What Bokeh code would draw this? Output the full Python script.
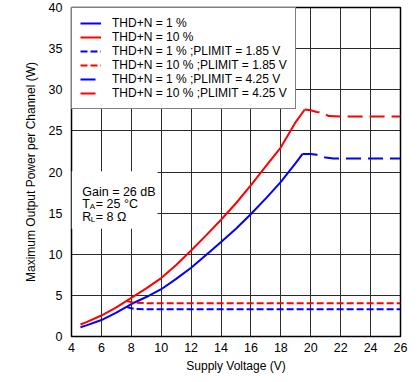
from bokeh.plotting import figure
from bokeh.models import (Range1d, FixedTicker, Legend, LegendItem,
                          BoxAnnotation, Label)
from bokeh.embed import file_html
from bokeh.resources import INLINE

# ---- data ----
v_thd1 = [4.6, 5, 6, 7, 8, 9, 10, 11, 12, 13, 14, 15, 16, 17, 18, 19, 19.45]
p_thd1 = [1.13, 1.35, 2.0, 2.9, 3.95, 4.8, 5.75, 7.0, 8.35, 9.9, 11.5, 13.1, 14.9, 16.8, 18.8, 21.1, 22.2]

v_thd10 = [4.6, 5, 6, 7, 8, 9, 10, 11, 12, 13, 14, 15, 16, 17, 18, 19, 19.6]
p_thd10 = [1.46, 1.75, 2.55, 3.55, 4.7, 5.85, 7.1, 8.7, 10.45, 12.3, 14.2, 16.2, 18.4, 20.7, 23.0, 26.1, 27.6]

v_thd1_pl185 = [7.7, 8.2, 9, 12, 16, 20, 24, 26]
p_thd1_pl185 = [3.57, 3.35, 3.32, 3.32, 3.32, 3.32, 3.32, 3.32]

v_thd10_pl185 = [7.7, 8.2, 9, 12, 16, 20, 24, 26]
p_thd10_pl185 = [4.3, 4.1, 4.05, 4.05, 4.05, 4.05, 4.05, 4.05]

v_thd1_pl425 = [19.45, 20.0, 20.4, 21.0, 21.5, 22, 24, 26]
p_thd1_pl425 = [22.2, 22.2, 22.1, 21.75, 21.65, 21.65, 21.65, 21.65]

v_thd10_pl425 = [19.6, 20.0, 20.4, 20.8, 21.2, 22, 24, 26]
p_thd10_pl425 = [27.6, 27.5, 27.3, 27.2, 26.8, 26.75, 26.75, 26.75]

series_labels = ["THD+N = 1 %", "THD+N = 10 %",
                 "THD+N = 1 % ;PLIMIT = 1.85 V", "THD+N = 10 % ;PLIMIT = 1.85 V",
                 "THD+N = 1 % ;PLIMIT = 4.25 V", "THD+N = 10 % ;PLIMIT = 4.25 V"]

x_ticks = list(range(4, 27, 2))
y_ticks = list(range(0, 41, 5))

FONT = "Liberation Sans"
BLUE = "#0000FF"
RED = "#FF0000"
GRID = "#2b2b2b"

p = figure(width=419, height=382, output_backend="svg", toolbar_location=None,
           x_range=Range1d(x_ticks[0], x_ticks[-1]),
           y_range=Range1d(y_ticks[0], y_ticks[-1]),
           min_border_left=71, min_border_right=19, min_border_top=7,
           min_border_bottom=46)

p.xaxis.ticker = FixedTicker(ticks=x_ticks)
p.yaxis.ticker = FixedTicker(ticks=y_ticks)
p.xgrid.ticker = FixedTicker(ticks=x_ticks)
p.ygrid.ticker = FixedTicker(ticks=y_ticks)
for g in (p.xgrid, p.ygrid):
    g.grid_line_color = GRID
    g.grid_line_width = 1
    g.grid_line_alpha = 1

p.xaxis.axis_label = "Supply Voltage (V)"
p.yaxis.axis_label = "Maximum Output Power per Channel (W)"
for ax in (p.xaxis, p.yaxis):
    ax.axis_line_color = None
    ax.major_tick_line_color = None
    ax.minor_tick_line_color = None
    ax.major_tick_in = 0
    ax.major_tick_out = 0
    ax.major_label_text_font = FONT
    ax.major_label_text_font_size = "12.5px"
    ax.major_label_text_color = "black"
    ax.axis_label_text_font = FONT
    ax.axis_label_text_font_size = "12px"
    ax.axis_label_text_font_style = "normal"
    ax.axis_label_text_color = "black"
p.xaxis.major_label_standoff = 6
p.xaxis.axis_label_standoff = 4
p.yaxis.major_label_standoff = 9
p.yaxis.axis_label_standoff = 8

p.outline_line_color = "black"
p.outline_line_width = 1.5
p.background_fill_color = "white"
p.border_fill_color = "white"

r1 = p.line(v_thd1, p_thd1, line_color=BLUE, line_width=2)
r2 = p.line(v_thd10, p_thd10, line_color=RED, line_width=2)
r3 = p.line(v_thd1_pl185, p_thd1_pl185, line_color=BLUE, line_width=2, line_dash="7 3")
r4 = p.line(v_thd10_pl185, p_thd10_pl185, line_color=RED, line_width=2, line_dash="7 3")
r5 = p.line(v_thd1_pl425, p_thd1_pl425, line_color=BLUE, line_width=2, line_dash="15 7")
r6 = p.line(v_thd10_pl425, p_thd10_pl425, line_color=RED, line_width=2, line_dash="15 7")

legend = Legend(items=[LegendItem(label=lbl, renderers=[r])
                       for lbl, r in zip(series_labels, [r1, r2, r3, r4, r5, r6])],
                location="top_left", margin=0, padding=8, spacing=0,
                glyph_width=21, glyph_height=12, label_height=12, label_standoff=11,
                label_text_font=FONT, label_text_font_size="12px",
                label_text_line_height=1.0,
                label_text_color="black",
                border_line_color="black", border_line_width=1,
                background_fill_color="white", background_fill_alpha=1)
p.add_layout(legend)

# condition box
box = BoxAnnotation(left=4, right=9.75, bottom=13.1, top=20.1,
                    fill_color="white", fill_alpha=1, line_color=None)
p.add_layout(box)

def lab(x, y, t, size="12.5px", xo=0, yo=0):
    p.add_layout(Label(x=x, y=y, text=t, x_offset=xo, y_offset=yo,
                       text_font=FONT, text_font_size=size, text_color="black",
                       text_baseline="alphabetic", text_align="left"))

lab(4.72, 17.55, "Gain = 26 dB")
lab(4.72, 16.1, "T")
lab(4.72, 16.1, "A", size="8px", xo=7.4, yo=-2.5)
lab(4.72, 16.1, "= 25 °C", xo=13.5)
lab(4.72, 14.5, "R")
lab(4.72, 14.5, "L", size="8px", xo=8.4, yo=-2.5)
lab(4.72, 14.5, "= 8 Ω", xo=13.5)

p.add_layout(Label(x=26.7, y=-4.95, text="G014", text_font=FONT,
                   text_font_size="6px", text_color="black",
                   text_baseline="alphabetic", text_align="right"))

open("out.html", "w").write(file_html(p, INLINE))
